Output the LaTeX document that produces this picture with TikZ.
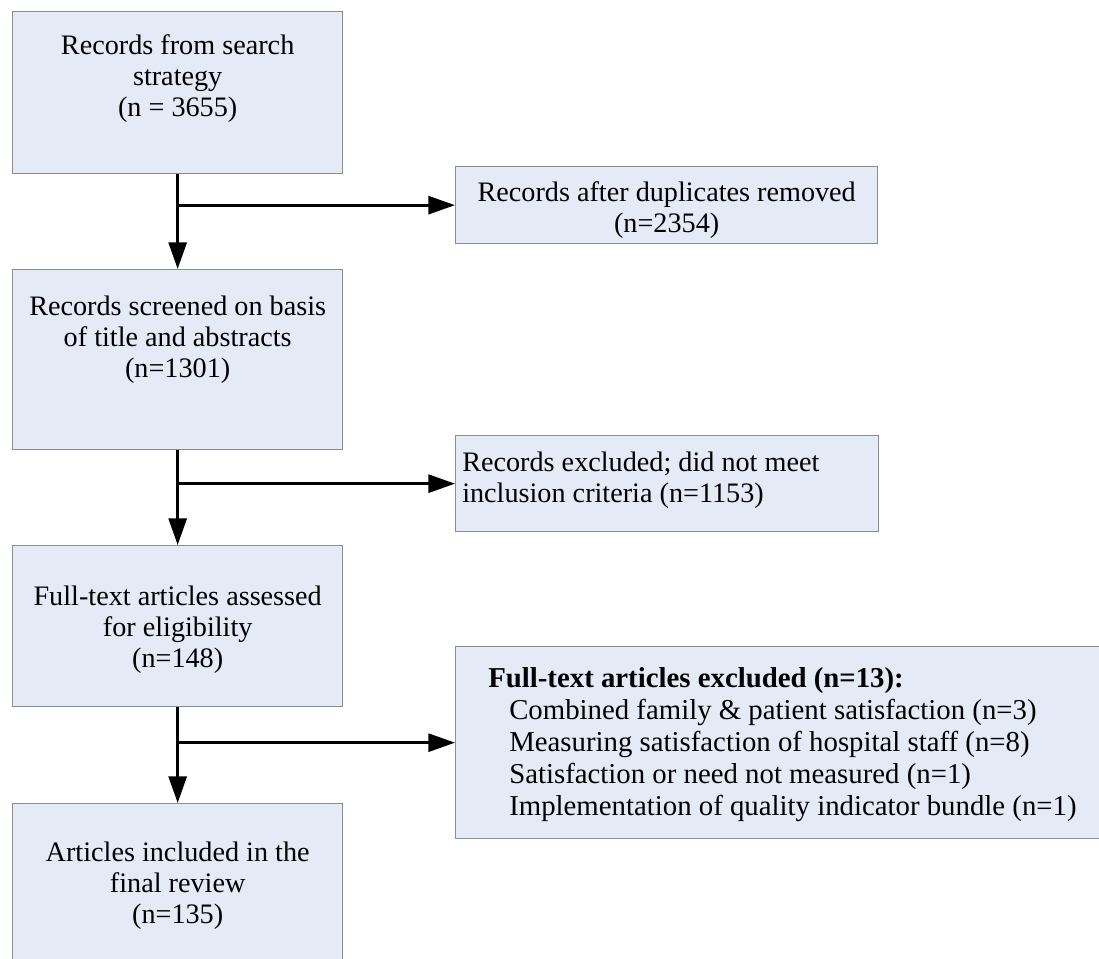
\documentclass[tikz,border=0pt]{standalone}
\usepackage{fontspec}
\setmainfont{Liberation Serif}
\usepackage{tikz}
\usetikzlibrary{arrows.meta,positioning}
\definecolor{boxfill}{RGB}{228,234,246}
\definecolor{boxline}{RGB}{140,140,140}

\begin{document}
\begin{tikzpicture}[x=0.75pt, y=-0.75pt,
		box/.style={draw=boxline, fill=boxfill, line width=1pt, inner sep=0pt, anchor=north west},
		txt/.style={inner sep=0pt, font=\fontsize{21.15}{23.25}\selectfont},
		arr/.style={line width=2.2pt, -{Triangle[width=13.5pt, length=20pt]}}]
			%%%%% START %%%%%
			
			\useasboundingbox (0, 0) rectangle (1099, 959);
			\clip (0, 0) rectangle (1099, 959);
			
			\node[box, minimum width=247.5pt, minimum height=121.5pt] (search) at (12, 11) {};
			\node[txt, align=center, below=17.65pt of search.north] (search-txt) {Records from search\\strategy\\(n = 3655)};
			
			\node[box, minimum width=316.5pt, minimum height=57.75pt] (dupl) at (455, 166) {};
			\node[txt, align=center, below=11.65pt of dupl.north] (dupl-txt) {Records after duplicates removed\\(n=2354)};
			
			\node[box, minimum width=247.5pt, minimum height=135pt] (screen) at (12, 269) {};
			\node[txt, align=center, below=19.85pt of screen.north] (screen-txt) {Records screened on basis\\of title and abstracts\\(n=1301)};
			
			\node[box, minimum width=317.25pt, minimum height=72pt] (excl) at (455, 435) {};
			\node[txt, align=left, anchor=north west] (excl-txt) at ([xshift=5.25pt, yshift=-12.35pt]excl.north west) {Records excluded; did not meet\\inclusion criteria (n=1153)};
			
			\node[box, minimum width=247.5pt, minimum height=120.75pt] (fulltext) at (12, 545) {};
			\node[txt, align=center, below=30.35pt of fulltext.north] (fulltext-txt) {Full-text articles assessed\\for eligibility\\(n=148)};
			
			\node[box, minimum width=487.5pt, minimum height=144pt] (ftexcl) at (455, 646) {};
			\node[txt, align=left, anchor=north west, font=\fontsize{21.6}{24}\selectfont] (ftexcl-txt) at ([xshift=24.75pt, yshift=-16.15pt]ftexcl.north west)
				{\textbf{Full-text articles excluded (n=13):}\\
				\hspace*{15.75pt}Combined family \& patient satisfaction (n=3)\\
				\hspace*{15.75pt}Measuring satisfaction of hospital staff (n=8)\\
				\hspace*{15.75pt}Satisfaction or need not measured (n=1)\\
				\hspace*{15.75pt}Implementation of quality indicator bundle (n=1)};
			
			\node[box, minimum width=247.5pt, minimum height=135pt] (incl) at (12, 803) {};
			\node[txt, align=center, below=28.85pt of incl.north] (incl-txt) {Articles included in the\\final review\\(n=135)};
			
			\draw[arr] (search.south) -- (screen.north);
			\draw[arr] (search.south |- dupl.west) -- (dupl.west);
			
			\draw[arr] (screen.south) -- (fulltext.north);
			\draw[arr] (screen.south |- excl.west) -- (excl.west);
			
			\draw[arr] (fulltext.south) -- (incl.north);
			\draw[arr] (fulltext.south |- ftexcl.west) -- (ftexcl.west);
			
			%%%%% END %%%%%
		\end{tikzpicture}
\end{document}
